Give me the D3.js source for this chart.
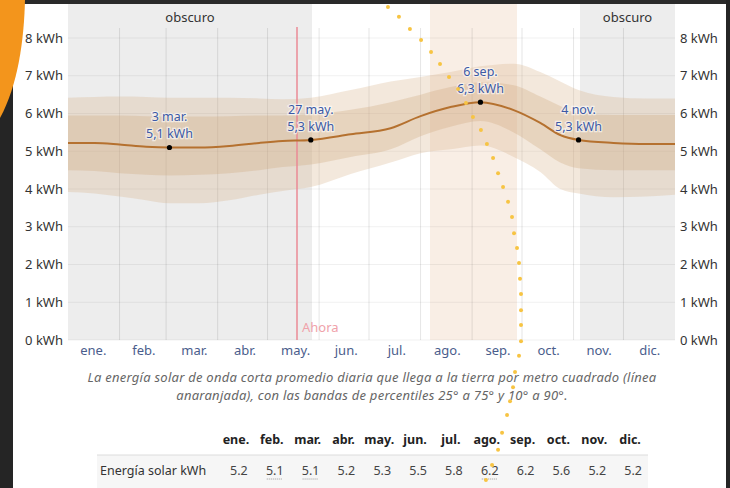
<!DOCTYPE html>
<html>
<head>
<meta charset="utf-8">
<script src="https://cdn.jsdelivr.net/npm/d3@7"></script>
<style>
    body { margin: 0; background: #ffffff; }
    svg { display: block; font-family: "Noto Sans", sans-serif; }
</style>
</head>
<body>
<div id="chart"></div>
<script>
// monthly table
const months = ["ene.", "feb.", "mar.", "abr.", "may.", "jun.", "jul.", "ago.", "sep.", "oct.", "nov.", "dic."];
const monthlyMeans = [5.2, 5.1, 5.1, 5.2, 5.3, 5.5, 5.8, 6.2, 6.2, 5.6, 5.2, 5.2];
const underlined = ["feb.", "mar.", "ago."];

// daily series (day of year, kWh)
const days  = [0, 16, 31, 47, 61, 79, 97, 115, 129, 146, 170, 194, 212, 230, 248, 268, 284, 296, 307, 328, 348, 365];
const meanKwh = [5.22, 5.22, 5.18, 5.12, 5.10, 5.10, 5.14, 5.22, 5.27, 5.30, 5.45, 5.61, 5.93, 6.17, 6.30, 6.09, 5.75, 5.43, 5.30, 5.22, 5.19, 5.19];
const p90 = [6.42, 6.44, 6.45, 6.44, 6.42, 6.42, 6.42, 6.40, 6.38, 6.42, 6.62, 6.85, 6.97, 7.10, 7.25, 7.32, 7.10, 6.85, 6.62, 6.44, 6.40, 6.40];
const p75 = [5.95, 5.95, 5.95, 5.93, 5.92, 5.92, 5.93, 5.95, 5.95, 5.98, 6.10, 6.30, 6.50, 6.70, 6.83, 6.75, 6.45, 6.20, 6.00, 5.96, 5.96, 5.96];
const p25 = [4.50, 4.48, 4.42, 4.38, 4.36, 4.38, 4.42, 4.50, 4.58, 4.65, 4.85, 5.05, 5.40, 5.65, 5.80, 5.50, 5.05, 4.70, 4.55, 4.50, 4.50, 4.50];
const p10 = [3.92, 3.88, 3.80, 3.70, 3.62, 3.62, 3.70, 3.85, 3.95, 4.05, 4.40, 4.70, 4.95, 5.05, 5.15, 4.85, 4.45, 4.00, 3.88, 3.78, 3.80, 3.85];

const yTicks = [0, 1, 2, 3, 4, 5, 6, 7, 8];
const monthStarts = [0, 31, 59, 90, 120, 151, 181, 212, 243, 273, 304, 334];

const darkPeriods = [[0, 146.7], [307.9, 365]];
const brightPeriod = [217.7, 270];
const nowDay = 137.7;

const highlights = [
    {day: 61, value: 5.1, date: "3 mar."},
    {day: 146, value: 5.3, date: "27 may."},
    {day: 248, value: 6.3, date: "6 sep."},
    {day: 307, value: 5.3, date: "4 nov."}
];

// yellow dotted trail overlaying the screenshot (day, kWh)
const trailDays = [192.4, 199.0, 205.6, 212.3, 218.3, 223.7, 229.1, 234.5, 239.3, 243.5, 248.3, 251.9, 255.6, 258.6, 261.6, 264.6, 267.0, 268.2, 270.0, 271.2, 271.8, 272.4, 272.4, 272.4, 272.4, 271.2, 268.8, 267.6, 265.8, 264.0, 261.0, 258.6, 255.0, 251.3];
const trailKwh = [8.82, 8.56, 8.24, 7.95, 7.63, 7.31, 6.97, 6.65, 6.28, 5.91, 5.56, 5.19, 4.82, 4.42, 4.05, 3.66, 3.26, 2.83, 2.44, 2.04, 1.62, 1.22, 0.79, 0.40, -0.03, -0.42, -0.85, -1.25, -1.62, -1.99, -2.46, -2.91, -3.31, -3.71];

const W = 730, H = 488;

let svg = d3.select("#chart").append("svg")
    .attr("width", W)
    .attr("height", H);

let x = d3.scaleLinear().domain([0, 365]).range([68, 675]);
let y = d3.scaleLinear().domain([0, 8]).range([340, 38]);
let plotTop = 0, plotBottom = y(0);

let series = days.map((d, i) => ({day: d, mean: meanKwh[i], p10: p10[i], p25: p25[i], p75: p75[i], p90: p90[i]}));

// background periods
svg.selectAll("rect.dark")
    .data(darkPeriods)
    .enter().append("rect")
    .attr("class", "dark")
    .attr("x", d => x(d[0]))
    .attr("y", plotTop)
    .attr("width", d => x(d[1]) - x(d[0]))
    .attr("height", plotBottom - plotTop)
    .attr("fill", "#ededed");

svg.append("rect")
    .attr("x", x(brightPeriod[0]))
    .attr("y", plotTop)
    .attr("width", x(brightPeriod[1]) - x(brightPeriod[0]))
    .attr("height", plotBottom - plotTop)
    .attr("fill", "#f9eee5");

svg.selectAll("text.dark-label")
    .data(darkPeriods)
    .enter().append("text")
    .attr("class", "dark-label")
    .attr("x", d => x((d[0] + d[1]) / 2))
    .attr("y", 22)
    .attr("text-anchor", "middle")
    .style("font-size", "13px")
    .style("fill", "#333")
    .text("obscuro");

// grid
svg.selectAll("line.hgrid")
    .data(yTicks)
    .enter().append("line")
    .attr("class", "hgrid")
    .attr("x1", x(0)).attr("x2", x(365))
    .attr("y1", d => y(d)).attr("y2", d => y(d))
    .style("stroke", "#000")
    .style("stroke-opacity", 0.06);

svg.selectAll("line.vgrid")
    .data(monthStarts.slice(1))
    .enter().append("line")
    .attr("class", "vgrid")
    .attr("x1", d => x(d)).attr("x2", d => x(d))
    .attr("y1", 28).attr("y2", plotBottom)
    .style("stroke", "#000")
    .style("stroke-opacity", 0.1);

// percentile bands
let band = (lo, hi) => d3.area()
    .x(d => x(d.day))
    .y0(d => y(d[lo]))
    .y1(d => y(d[hi]))
    .curve(d3.curveMonotoneX);

svg.append("path")
    .datum(series)
    .attr("d", band("p10", "p90"))
    .style("fill", "#d7b28a")
    .style("fill-opacity", 0.3);

svg.append("path")
    .datum(series)
    .attr("d", band("p25", "p75"))
    .style("fill", "#cda47c")
    .style("fill-opacity", 0.3);

// now line
svg.append("line")
    .attr("x1", x(nowDay)).attr("x2", x(nowDay))
    .attr("y1", 27).attr("y2", plotBottom)
    .style("stroke", "#ea8a95")
    .style("stroke-width", 1.5);

svg.append("text")
    .attr("x", x(nowDay) + 5)
    .attr("y", 332)
    .style("font-size", "13px")
    .style("fill", "#f0a2aa")
    .text("Ahora");

// mean line
svg.append("path")
    .datum(series)
    .attr("d", d3.line().x(d => x(d.day)).y(d => y(d.mean)).curve(d3.curveMonotoneX))
    .style("fill", "none")
    .style("stroke", "#b5712f")
    .style("stroke-width", 2);

// highlighted days
let hl = svg.selectAll("g.hl")
    .data(highlights)
    .enter().append("g")
    .attr("class", "hl")
    .attr("transform", d => "translate(" + x(d.day) + "," + y(d.value) + ")");

hl.append("circle")
    .attr("r", 2.6)
    .attr("fill", "#000");

hl.append("text")
    .attr("y", -26)
    .text(d => d.date);
hl.append("text")
    .attr("y", -9)
    .text(d => String(d.value).replace(".", ",") + " kWh");
hl.selectAll("text")
    .attr("text-anchor", "middle")
    .style("font-size", "12.5px")
    .style("fill", "#3c5aa6")
    .style("stroke", "#fff")
    .style("stroke-width", 2.5)
    .style("stroke-opacity", 0.6)
    .style("paint-order", "stroke");

// y axis labels both sides
svg.selectAll("text.yl")
    .data(yTicks)
    .enter().append("text")
    .attr("class", "yl")
    .attr("x", 63)
    .attr("y", d => y(d) + 4.5)
    .attr("text-anchor", "end")
    .style("font-size", "13px")
    .style("fill", "#333")
    .text(d => d + " kWh");

svg.selectAll("text.yr")
    .data(yTicks)
    .enter().append("text")
    .attr("class", "yr")
    .attr("x", 680)
    .attr("y", d => y(d) + 4.5)
    .style("font-size", "13px")
    .style("fill", "#333")
    .text(d => d + " kWh");

// month labels
svg.selectAll("text.month")
    .data(months)
    .enter().append("text")
    .attr("class", "month")
    .attr("x", (d, i) => x(365 / 12 * (i + 0.5)))
    .attr("y", 355)
    .attr("text-anchor", "middle")
    .style("font-size", "13px")
    .style("fill", "#4a5d8c")
    .text(d => d);

// caption
let caption = ["La energía solar de onda corta promedio diaria que llega a la tierra por metro cuadrado (línea",
    "anaranjada), con las bandas de percentiles 25° a 75° y 10° a 90°."];
svg.selectAll("text.caption")
    .data(caption)
    .enter().append("text")
    .attr("class", "caption")
    .attr("x", 372)
    .attr("y", (d, i) => 382 + i * 18)
    .attr("text-anchor", "middle")
    .style("font-size", "13px")
    .style("letter-spacing", "0.25px")
    .style("font-style", "italic")
    .style("fill", "#666")
    .text(d => d);

// table
let col = d3.scaleBand().domain(months).range([218, 648]);

svg.append("rect")
    .attr("x", 97).attr("y", 455)
    .attr("width", 551).attr("height", 33)
    .attr("fill", "#f6f6f6");
svg.append("line")
    .attr("x1", 97).attr("x2", 648)
    .attr("y1", 455).attr("y2", 455)
    .style("stroke", "#dcdcdc");

svg.selectAll("text.th")
    .data(months)
    .enter().append("text")
    .attr("class", "th")
    .attr("x", d => col(d) + col.bandwidth() / 2)
    .attr("y", 444)
    .attr("text-anchor", "middle")
    .style("font-size", "12.5px")
    .style("font-weight", "bold")
    .style("fill", "#222")
    .text(d => d);

svg.append("text")
    .attr("x", 100)
    .attr("y", 475)
    .style("font-size", "12.5px")
    .style("fill", "#333")
    .text("Energía solar kWh");

svg.selectAll("text.td")
    .data(monthlyMeans)
    .enter().append("text")
    .attr("class", "td")
    .attr("x", (d, i) => col(months[i]) + col.bandwidth() / 2 + 3)
    .attr("y", 475)
    .attr("text-anchor", "middle")
    .style("font-size", "12.5px")
    .style("fill", "#444")
    .text(d => d.toFixed(1));

svg.selectAll("line.ul")
    .data(underlined)
    .enter().append("line")
    .attr("class", "ul")
    .attr("x1", d => col(d) + col.bandwidth() / 2 - 5)
    .attr("x2", d => col(d) + col.bandwidth() / 2 + 11)
    .attr("y1", 479).attr("y2", 479)
    .style("stroke", "#999")
    .style("stroke-dasharray", "1,1");

// overlay: yellow dotted trail
svg.selectAll("circle.trail")
    .data(trailDays)
    .enter().append("circle")
    .attr("class", "trail")
    .attr("cx", d => x(d))
    .attr("cy", (d, i) => y(trailKwh[i]))
    .attr("r", 2)
    .attr("fill", "#f7c443");

// overlay: screenshot frame and orange shape
svg.append("rect").attr("x", 0).attr("y", 0).attr("width", 13).attr("height", H).attr("fill", "#252525");
svg.append("rect").attr("x", 0).attr("y", 0).attr("width", W).attr("height", 4).attr("fill", "#2a2a2a");
svg.append("rect").attr("x", 726).attr("y", 0).attr("width", 4).attr("height", H).attr("fill", "#252525");
svg.append("path")
    .attr("d", "M0,0 L25,0 C24,40 18,85 0,118 Z")
    .attr("fill", "#f3951c");
</script>
</body>
</html>
